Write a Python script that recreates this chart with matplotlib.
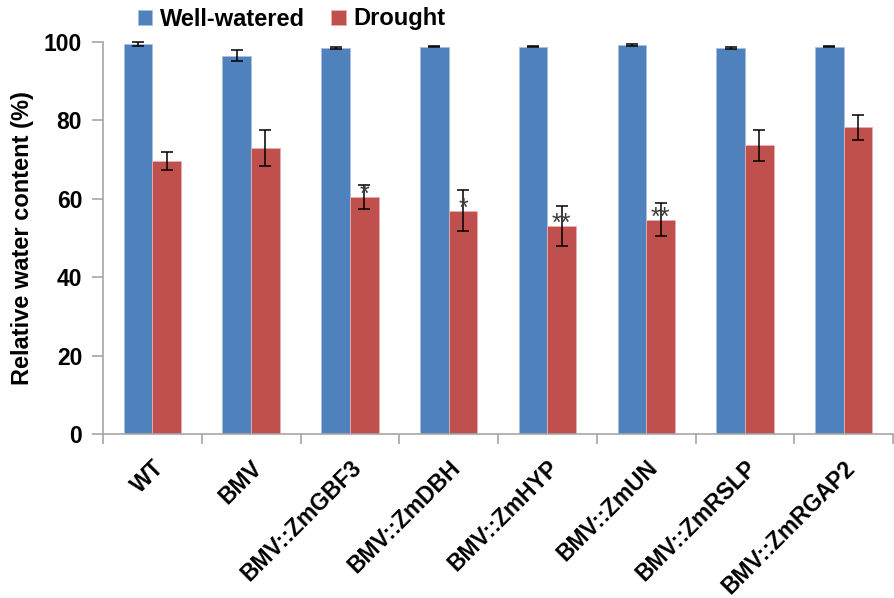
import matplotlib
matplotlib.use("Agg")
import matplotlib.pyplot as plt
import numpy as np

# relative water content (%) per line, mean and SE
lines = ["WT", "BMV", "BMV::ZmGBF3", "BMV::ZmDBH", "BMV::ZmHYP",
         "BMV::ZmUN", "BMV::ZmRSLP", "BMV::ZmRGAP2"]
well_watered = [99.5, 96.5, 98.5, 98.8, 98.8, 99.2, 98.4, 98.8]
well_watered_err = [0.5, 1.4, 0.2, 0.2, 0.2, 0.2, 0.3, 0.2]
drought = [69.7, 73.0, 60.5, 57.0, 53.1, 54.7, 73.6, 78.2]
drought_err = [2.3, 4.6, 3.1, 5.2, 5.1, 4.3, 3.9, 3.3]
significance = ["", "", "*", "*", "**", "**", "", ""]

BLUE = "#4F81BD"
RED = "#C0504D"
AXIS_GREY = "#A6A6A6"

plt.rcParams["font.family"] = ["Liberation Sans", "DejaVu Sans"]
plt.rcParams["font.weight"] = "bold"

fig = plt.figure(figsize=(8.94, 5.98), dpi=100)
ax = fig.add_axes([0.1152, 0.2742, 0.8838, 0.6556])

x = np.arange(len(lines))
width = 0.29
err_kw = dict(ecolor="black", elinewidth=1.1, capsize=4.5, capthick=1.1, clip_on=False)

ax.bar(x - width / 2, well_watered, width, yerr=well_watered_err, color=BLUE,
       edgecolor="#A9C0E0", linewidth=0.6, error_kw=err_kw, label="Well-watered")
ax.bar(x + width / 2, drought, width, yerr=drought_err, color=RED,
       edgecolor="#E6B0AE", linewidth=0.6, error_kw=err_kw, label="Drought")

# significance stars sit over the drought error bars, just above the bar top
for xi, val, mark in zip(x, drought, significance):
    if mark:
        ax.text(xi + width / 2, val - 1.3, mark, ha="center", va="baseline",
                fontsize=18, fontweight="normal", color="#3a3a3a")

ax.set_xlim(-0.5, len(lines) - 0.5)
ax.set_ylim(0, 100)
ax.set_yticks([0, 20, 40, 60, 80, 100])
ax.set_ylabel("Relative water content (%)", fontsize=17, fontweight="bold", labelpad=7)

# category boundaries get the tick marks, names sit between them
ax.set_xticks(np.arange(len(lines) + 1) - 0.5)
ax.set_xticklabels([])
ax.set_xticks(x, minor=True)
ax.set_xticklabels(lines, minor=True, rotation=45, ha="right",
                   rotation_mode="anchor", fontsize=16.5, fontweight="bold")
ax.tick_params(axis="x", which="minor", length=0, pad=16)
ax.tick_params(axis="x", which="major", length=7, color=AXIS_GREY, width=1.2)
ax.tick_params(axis="y", length=8, color=AXIS_GREY, width=1.2, labelsize=16.5, pad=7)

for side in ("top", "right"):
    ax.spines[side].set_visible(False)
for side in ("left", "bottom"):
    ax.spines[side].set_color(AXIS_GREY)
    ax.spines[side].set_linewidth(1.2)

fig.legend(loc="center", bbox_to_anchor=(292 / 894, 1 - 19 / 598), ncol=2,
           frameon=False, fontsize=17, handlelength=0.6, handleheight=0.6,
           handletextpad=0.35, columnspacing=1.1, borderpad=0)

fig.savefig("out.png", dpi=100)
